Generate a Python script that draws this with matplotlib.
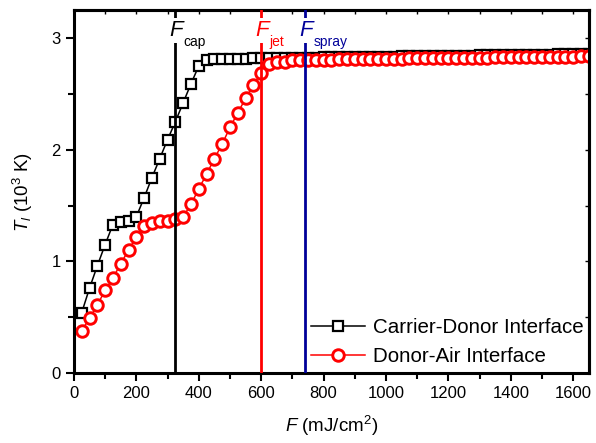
import numpy as np
import matplotlib
matplotlib.use("Agg")
import matplotlib.pyplot as plt
from matplotlib.ticker import MultipleLocator

plt.rcParams["font.family"] = ["Liberation Sans", "DejaVu Sans"]
plt.rcParams["mathtext.fontset"] = "custom"
plt.rcParams["mathtext.rm"] = "Liberation Sans"
plt.rcParams["mathtext.it"] = "Liberation Sans:italic"

# Fluencia (mJ/cm^2), paso de 25
fluence = np.arange(25, 1675, 25)

# Temperatura interfaz carrier-donor (10^3 K)
t_carrier = [0.54, 0.76, 0.96, 1.15, 1.33, 1.35, 1.36, 1.40, 1.57, 1.75,
             1.92, 2.09, 2.25, 2.42, 2.59, 2.75, 2.80, 2.81, 2.81, 2.81,
             2.81, 2.81, 2.82, 2.82,
             2.82, 2.82, 2.82, 2.82, 2.82, 2.82, 2.82, 2.83, 2.83, 2.83,
             2.83, 2.83, 2.83, 2.83, 2.83, 2.83, 2.83, 2.84, 2.84, 2.84,
             2.84, 2.84, 2.84, 2.84, 2.84, 2.84, 2.84, 2.85, 2.85, 2.85,
             2.85, 2.85, 2.85, 2.85, 2.85, 2.85, 2.85, 2.86, 2.86, 2.86,
             2.86, 2.86]

# Temperatura interfaz donor-air (10^3 K)
t_air = [0.38, 0.49, 0.61, 0.74, 0.85, 0.98, 1.10, 1.22, 1.32, 1.34,
         1.36, 1.36, 1.38, 1.40, 1.51, 1.65, 1.78, 1.92, 2.05, 2.20,
         2.33, 2.46, 2.58, 2.69, 2.77, 2.79,
         2.79, 2.80, 2.80, 2.80, 2.80, 2.80, 2.80, 2.81, 2.81, 2.81,
         2.81, 2.81, 2.81, 2.81, 2.81, 2.81, 2.82, 2.82, 2.82, 2.82,
         2.82, 2.82, 2.82, 2.82, 2.82, 2.82, 2.82, 2.83, 2.83, 2.83,
         2.83, 2.83, 2.83, 2.83, 2.83, 2.83, 2.83, 2.83, 2.84, 2.84]

# Umbrales (fluencia, subindice, color)
thresholds = [325, 600, 740]
threshold_labels = ["cap", "jet", "spray"]
threshold_colors = ["black", "#ff0000", "#000099"]

fig = plt.figure(figsize=(5.96, 4.43), dpi=100)
ax = fig.add_axes([0.124, 0.158, 0.864, 0.819])

ax.plot(fluence, t_carrier, color="black", lw=1.1, marker="s", ms=6.8,
        mfc="white", mec="black", mew=1.6, label="Carrier-Donor Interface")
ax.plot(fluence, t_air, color="#ff0000", lw=1.1, marker="o", ms=8.3,
        mfc="white", mec="#ff0000", mew=2.1, label="Donor-Air Interface")

for xv, sub, col in zip(thresholds, threshold_labels, threshold_colors):
    ax.axvline(xv, color=col, lw=2.0, zorder=5)
    ax.text(xv + 4, 3.07, "F", color=col, fontsize=16, style="italic",
            ha="center", va="center", zorder=6,
            bbox=dict(facecolor="white", edgecolor="none", pad=1.5))
    ax.annotate(sub, xy=(xv, 2.965), xytext=(6, 0), textcoords="offset points",
                color=col, fontsize=10, ha="left", va="center", zorder=6,
                bbox=dict(facecolor="white", edgecolor="none", pad=0.5))

ax.set_xlim(0, 1650)
ax.set_ylim(0, 3.25)
ax.xaxis.set_major_locator(MultipleLocator(200))
ax.xaxis.set_minor_locator(MultipleLocator(100))
ax.yaxis.set_major_locator(MultipleLocator(1))
ax.yaxis.set_minor_locator(MultipleLocator(0.5))
ax.tick_params(which="both", direction="out", width=1.5, labelsize=12,
               top=False, right=False)
ax.tick_params(which="major", length=6)
ax.tick_params(which="minor", length=4)

# ticks interiores arriba y derecha
sec_x = ax.secondary_xaxis("top")
sec_x.xaxis.set_major_locator(MultipleLocator(100))
sec_x.tick_params(direction="in", length=3, width=1.0, labeltop=False)
sec_y = ax.secondary_yaxis("right")
sec_y.yaxis.set_major_locator(MultipleLocator(0.5))
sec_y.tick_params(direction="in", length=3, width=1.0, labelright=False)
for a in (ax, sec_x, sec_y):
    for sp in a.spines.values():
        sp.set_linewidth(2.2)

ax.set_xlabel(r"$F$ (mJ/cm$^2$)", fontsize=13.5, labelpad=9)
ax.set_ylabel(r"$T_l$ (10$^3$ K)", fontsize=13.5, labelpad=12)

ax.legend(loc="lower right", bbox_to_anchor=(0.99, 0.02), frameon=False,
          fontsize=14.8, handlelength=2.6, handletextpad=0.4, labelspacing=0.45,
          borderpad=0, borderaxespad=0)

fig.savefig("out.png", dpi=100)
